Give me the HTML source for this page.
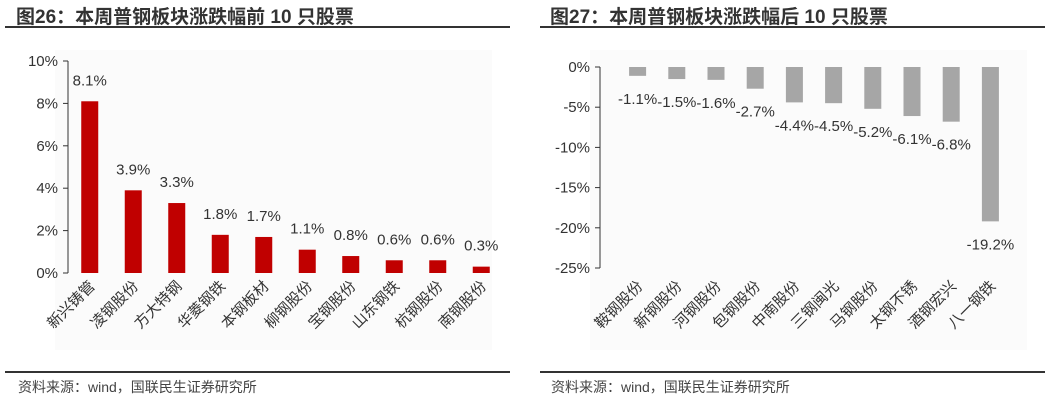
<!DOCTYPE html>
<html><head><meta charset="utf-8"><style>
body{margin:0;background:#fff;width:1051px;height:407px;overflow:hidden;font-family:"Liberation Sans","Noto Sans CJK SC",sans-serif}
</style></head><body>
<svg id="s" width="1051" height="407" xmlns="http://www.w3.org/2000/svg" font-family="'Liberation Sans','Noto Sans CJK SC',sans-serif">
<g>
<rect x="55" y="50" width="437" height="300" fill="#fbfbfb"/>
<text x="16" y="23" font-size="19" font-weight="bold" fill="#333">图26：本周普钢板块涨跌幅前 10 只股票</text>
<line x1="5" y1="27" x2="510" y2="27" stroke="#333" stroke-width="2"/>
<line x1="5" y1="372" x2="510" y2="372" stroke="#333" stroke-width="2"/>
<text x="18" y="392" font-size="14" fill="#444">资料来源：wind，国联民生证券研究所</text>
<g id="L"></g>
</g>
<g>
<rect x="590" y="50" width="437" height="300" fill="#fbfbfb"/>
<text x="550" y="23" font-size="19" font-weight="bold" fill="#333">图27：本周普钢板块涨跌幅后 10 只股票</text>
<line x1="540" y1="27" x2="1045" y2="27" stroke="#333" stroke-width="2"/>
<line x1="540" y1="372" x2="1045" y2="372" stroke="#333" stroke-width="2"/>
<text x="551" y="392" font-size="14" fill="#444">资料来源：wind，国联民生证券研究所</text>
<g id="R"></g>
</g>
</svg>
<script>
const leftCats=["新兴铸管","凌钢股份","方大特钢","华菱钢铁","本钢板材","柳钢股份","宝钢股份","山东钢铁","杭钢股份","南钢股份"];
const leftVals=[8.1,3.9,3.3,1.8,1.7,1.1,0.8,0.6,0.6,0.3];
const leftTicks=[0,2,4,6,8,10];
const rightCats=["鞍钢股份","新钢股份","河钢股份","包钢股份","中南股份","三钢闽光","马钢股份","太钢不锈","酒钢宏兴","八一钢铁"];
const rightVals=[-1.1,-1.5,-1.6,-2.7,-4.4,-4.5,-5.2,-6.1,-6.8,-19.2];
const rightTicks=[0,-5,-10,-15,-20,-25];
const NS="http://www.w3.org/2000/svg";
function mk(p,t,a,txt){const e=document.createElementNS(NS,t);for(const k in a)e.setAttribute(k,a[k]);if(txt!=null)e.textContent=txt;p.appendChild(e);return e;}
function draw(g,cats,vals,ticks,o){
  const y=v=>o.y0+(v-o.v0)*(o.y1-o.y0)/(o.v1-o.v0);
  const x=i=>o.x0+o.step*(i+0.5);
  mk(g,'line',{x1:o.ax,y1:y(o.v0),x2:o.ax,y2:y(o.v1),stroke:'#333','stroke-width':1});
  ticks.forEach(t=>{
    mk(g,'line',{x1:o.ax-5,y1:y(t),x2:o.ax,y2:y(t),stroke:'#333'});
    const e=mk(g,'text',{x:o.ax-10,y:y(t)+5,'font-size':15,fill:'#333','text-anchor':'end'},t+'%');
    
    
  });
  vals.forEach((v,i)=>{
    const a=y(0),b=y(v);
    const r=mk(g,'rect',{x:x(i)-8.5,y:Math.min(a,b),width:17,height:Math.abs(b-a),fill:o.color});
    
    
    const ly=v>=0?b-16:b+28;
    const t=mk(g,'text',{x:x(i),y:ly,'font-size':15,fill:'#333','text-anchor':'middle'},v.toFixed(1)+'%');
    
    
    const c=mk(g,'text',{x:x(i)+6,y:o.ly,'font-size':15,fill:'#333','text-anchor':'end',transform:`rotate(-45 ${x(i)+6} ${o.ly})`},cats[i]);
    
    
  });
}
draw(document.getElementById('L'),leftCats,leftVals,leftTicks,{ax:68,x0:68,step:43.5,v0:0,v1:10,y0:273,y1:61,color:'#c00000',ly:287});
draw(document.getElementById('R'),rightCats,rightVals,rightTicks,{ax:600,x0:618,step:39.2,v0:0,v1:-25,y0:67,y1:268,color:'#a6a6a6',ly:287});
</script>
</body></html>
